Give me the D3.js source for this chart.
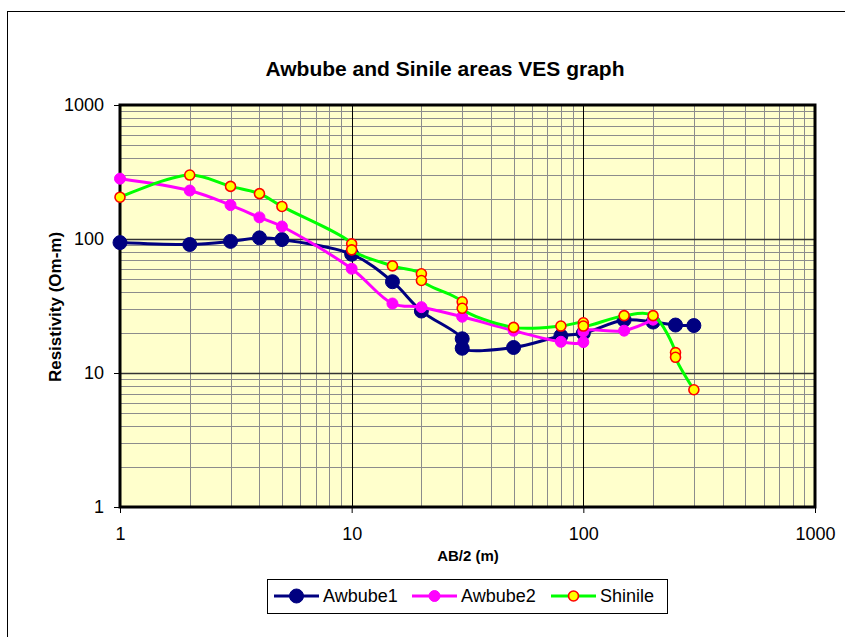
<!DOCTYPE html>
<html>
<head>
<meta charset="utf-8">
<script src="https://cdn.jsdelivr.net/npm/d3@7"></script>
<style>
  body { margin: 0; background: #fff; }
  svg { font-family: "Liberation Sans", Arial, sans-serif; }
</style>
</head>
<body>
<svg id="chart"></svg>
<script>
// AB/2 (m) and apparent resistivity (Ohm-m)
var awb1X = [1, 2, 3, 4, 5, 10, 15, 20, 30, 30, 50, 80, 100, 150, 200, 250, 300];
var awb1Y = [94, 91, 96, 102, 99, 77, 48, 29, 18, 15.3, 15.5, 18.9, 19.8, 24.9, 24, 22.8, 22.6];

var awb2X = [1, 2, 3, 4, 5, 10, 15, 20, 30, 50, 80, 100, 100, 150, 200];
var awb2Y = [282, 230, 179, 145, 124, 60, 33, 31, 26.3, 20.7, 17.1, 17.0, 20.4, 20.7, 25];

var shinX = [1, 2, 3, 4, 5, 10, 10, 15, 20, 20, 30, 30, 50, 80, 100, 100, 150, 200, 250, 250, 300];
var shinY = [205, 300, 247, 218, 175, 92, 83, 63, 55, 49, 34, 30.4, 21.9, 22.4, 23.7, 22.4, 26.8, 26.8, 14.2, 13.1, 7.5];

var seriesNames = ["Awbube1", "Awbube2", "Shinile"];
var majorTicks = [1, 10, 100, 1000];

var W = 845, H = 637;
var pL = 120, pR = 815, pT = 105, pB = 507;

var svg = d3.select("#chart").attr("width", W).attr("height", H);

// outer chart frame
svg.append("rect").attr("x", 7.5).attr("y", 11.5).attr("width", W).attr("height", H)
    .style("fill", "none").style("stroke", "#000").style("stroke-width", 1);

var x = d3.scaleLog().domain([1, 1000]).range([pL, pR]);
var y = d3.scaleLog().domain([1, 1000]).range([pB, pT]);

svg.append("rect").attr("x", pL).attr("y", pT)
    .attr("width", pR - pL).attr("height", pB - pT)
    .style("fill", "#FFFFCC");

// grid
var minor = [];
[1, 10, 100].forEach(function(d){ for (var k = 2; k <= 9; ++k) minor.push(d * k); });

var grid = svg.append("g");
grid.selectAll("line.vmin").data(minor).enter().append("line")
    .attr("x1", function(d){ return Math.round(x(d)) + 0.5; })
    .attr("x2", function(d){ return Math.round(x(d)) + 0.5; })
    .attr("y1", pT).attr("y2", pB)
    .style("stroke", "#8c8c8c").style("stroke-width", 1);
grid.selectAll("line.hmin").data(minor).enter().append("line")
    .attr("y1", function(d){ return Math.round(y(d)) + 0.5; })
    .attr("y2", function(d){ return Math.round(y(d)) + 0.5; })
    .attr("x1", pL).attr("x2", pR)
    .style("stroke", "#8c8c8c").style("stroke-width", 1);
grid.selectAll("line.vmaj").data([10, 100]).enter().append("line")
    .attr("x1", function(d){ return Math.round(x(d)) + 0.5; })
    .attr("x2", function(d){ return Math.round(x(d)) + 0.5; })
    .attr("y1", pT).attr("y2", pB)
    .style("stroke", "#000").style("stroke-width", 1);
grid.selectAll("line.hmaj").data([10, 100]).enter().append("line")
    .attr("y1", function(d){ return Math.round(y(d)) + 0.5; })
    .attr("y2", function(d){ return Math.round(y(d)) + 0.5; })
    .attr("x1", pL).attr("x2", pR)
    .style("stroke", "#333").style("stroke-width", 1.5);

// axes
var fmt = function(d){ return d3.format("d")(d); };
var xAxis = svg.append("g").attr("transform", "translate(0," + pB + ")")
    .call(d3.axisBottom(x).tickValues(majorTicks).tickFormat(fmt).tickSize(6).tickPadding(14));
var yAxis = svg.append("g").attr("transform", "translate(" + pL + ",0)")
    .call(d3.axisLeft(y).tickValues(majorTicks).tickFormat(fmt).tickSize(6).tickPadding(10));
[xAxis, yAxis].forEach(function(a){
    a.select(".domain").remove();
    a.selectAll("text").style("font-size", "18px").style("fill", "#000")
        .style("font-family", "'Liberation Sans', Arial, sans-serif");
    a.selectAll("line").style("stroke", "#000");
});

// plot frame
svg.append("rect").attr("x", pL).attr("y", pT)
    .attr("width", pR - pL).attr("height", pB - pT)
    .style("fill", "none").style("stroke", "#000").style("stroke-width", 3);

// series
var line = d3.line()
    .x(function(d){ return x(d[0]); })
    .y(function(d){ return y(d[1]); })
    .curve(d3.curveCatmullRom.alpha(0.5));

var series = [
  {name: seriesNames[0], pts: d3.zip(awb1X, awb1Y), stroke: "#000080", r: 7, fill: "#000080", mstroke: "#000080", msw: 1},
  {name: seriesNames[1], pts: d3.zip(awb2X, awb2Y), stroke: "#FF00FF", r: 5.5, fill: "#FF00FF", mstroke: "#FF00FF", msw: 1},
  {name: seriesNames[2], pts: d3.zip(shinX, shinY), stroke: "#00FF00", r: 5, fill: "#FFFF00", mstroke: "#FF0000", msw: 1.6}
];

series.forEach(function(s){
    var g = svg.append("g");
    g.append("path").attr("d", line(s.pts))
        .style("fill", "none").style("stroke", s.stroke).style("stroke-width", 3);
    g.selectAll("circle").data(s.pts).enter().append("circle")
        .attr("cx", function(d){ return x(d[0]); })
        .attr("cy", function(d){ return y(d[1]); })
        .attr("r", s.r)
        .style("fill", s.fill).style("stroke", s.mstroke).style("stroke-width", s.msw);
});

// titles
svg.append("text").attr("x", 445).attr("y", 76).attr("text-anchor", "middle")
    .style("font-size", "21px").style("font-weight", "bold").text("Awbube and Sinile areas VES graph");
svg.append("text").attr("x", 468).attr("y", 561).attr("text-anchor", "middle")
    .style("font-size", "15px").style("font-weight", "bold").text("AB/2 (m)");
svg.append("text").attr("transform", "translate(61,307) rotate(-90)").attr("text-anchor", "middle")
    .style("font-size", "17px").style("font-weight", "bold").text("Resistivity (Om-m)");

// legend
var lg = svg.append("g");
lg.append("rect").attr("x", 267.5).attr("y", 579.5).attr("width", 400).attr("height", 34)
    .style("fill", "#fff").style("stroke", "#000").style("stroke-width", 1);
var legX = [274, 412, 551];
series.forEach(function(s, i){
    var cy = 596;
    lg.append("line").attr("x1", legX[i]).attr("x2", legX[i] + 45).attr("y1", cy).attr("y2", cy)
        .style("stroke", s.stroke).style("stroke-width", 3);
    lg.append("circle").attr("cx", legX[i] + 22.5).attr("cy", cy).attr("r", s.r)
        .style("fill", s.fill).style("stroke", s.mstroke).style("stroke-width", s.msw);
    lg.append("text").attr("x", legX[i] + 49).attr("y", cy + 6)
        .style("font-size", "18px").text(s.name);
});
</script>
</body>
</html>
